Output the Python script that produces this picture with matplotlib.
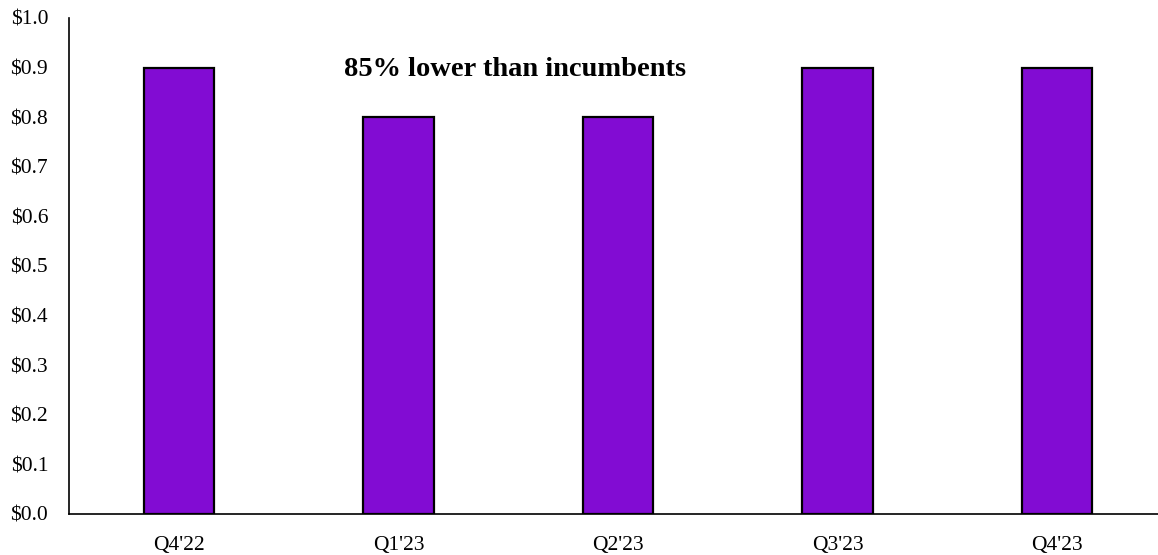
import matplotlib
matplotlib.use("Agg")
import matplotlib.pyplot as plt
import numpy as np

quarters = ["Q4'22", "Q1'23", "Q2'23", "Q3'23", "Q4'23"]
values = [0.9, 0.8, 0.8, 0.9, 0.9]
yticks = np.arange(0, 1.01, 0.1)

plt.rcParams['font.family'] = ['Liberation Serif', 'DejaVu Serif']

fig = plt.figure(figsize=(11.58, 5.55), dpi=100)
# axes runs a little past the right edge so the baseline reaches the border
ax = fig.add_axes([0.0596, 0.0739, 0.9482, 0.8937])

x = np.arange(len(quarters))
ax.bar(x, values, width=0.32, color='#820CD3', edgecolor='black', linewidth=1.6)

ax.set_xlim(-0.5, len(quarters) - 0.5)
ax.set_ylim(0, 1.0)
ax.set_xticks(x)
ax.set_xticklabels(quarters, fontsize=15.5)
ax.set_yticks(yticks)
ax.set_yticklabels([f"${v:.1f}" for v in yticks], fontsize=15.5)
ax.tick_params(length=0)
ax.tick_params(axis='x', pad=16)
ax.tick_params(axis='y', pad=15)

for side in ['top', 'right']:
    ax.spines[side].set_visible(False)
for side in ['left', 'bottom']:
    ax.spines[side].set_linewidth(1.2)

ax.text(1.53, 0.883, "85% lower than incumbents", ha='center', va='baseline',
        fontsize=20.5, fontweight='bold')

fig.savefig("out.png", dpi=100)
